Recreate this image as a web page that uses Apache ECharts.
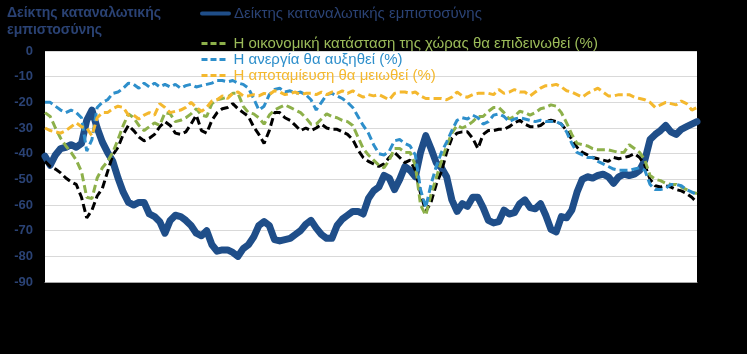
<!DOCTYPE html>
<html>
<head>
<meta charset="utf-8">
<title>Δείκτης καταναλωτικής εμπιστοσύνης</title>
<script src="https://cdn.jsdelivr.net/npm/echarts@6.0.0/dist/echarts.min.js"></script>
<style>
    html, body { margin: 0; padding: 0; background: #000; }
    #chart { width: 747px; height: 354px; }
</style>
</head>
<body>
<div id="chart"></div>
<script>
// series names (legend text)
const cciName = 'Δείκτης καταναλωτικής εμπιστοσύνης';
const blackName = 'Σειρά 5';
const greenName = 'Η οικονομική κατάσταση της χώρας θα επιδεινωθεί (%)';
const blueName = 'Η ανεργία θα αυξηθεί (%)';
const yellowName = 'Η αποταμίευση θα μειωθεί (%)';

// monthly categories, Jan 2009 onwards (labels are hidden in the chart)
const months = [];
for (let y = 2009; months.length < 126; y++) {
    for (let m = 1; m <= 12 && months.length < 126; m++) {
        months.push(y + '-' + (m < 10 ? '0' + m : m));
    }
}

// consumer confidence index
const cci = [-41, -44.5, -40.5, -38, -37.5, -36.5, -37.5, -36, -27, -23,
    -30, -35.5, -39.5, -43, -49.5, -55, -59, -60, -59, -59,
    -63.5, -64.5, -66.5, -71, -66, -64, -64.5, -66, -68, -71,
    -72, -70, -75.5, -78, -77.5, -77.5, -78.5, -80, -77, -75.5,
    -72.5, -68, -66.5, -68, -73.5, -74, -73.5, -73, -71.5, -70,
    -67.5, -66, -69, -71.5, -73, -73, -68, -65.5, -64, -62.5,
    -62.5, -63.5, -57.5, -54.5, -53, -48.5, -49.5, -54, -50, -45,
    -46.5, -49, -39.5, -33, -38, -43.5, -45.5, -49, -58, -62.5,
    -59.5, -60.5, -57, -57, -61, -66, -67, -66.5, -62, -63.5,
    -63, -59.5, -58, -61, -61.5, -59.5, -64, -69.5, -70.5, -64.5,
    -65, -62, -55, -50, -49, -49.5, -48.5, -48, -49, -51.5,
    -49, -48, -48.5, -48, -46.5, -42.5, -34.5, -32.5, -31, -29,
    -31.5, -32.5, -30.5, -29.5, -28.5, -27.5];

// black dashed series (no visible legend text)
const blackVals = [-43, -45, -46, -47.5, -49.5, -51, -52, -57, -65, -62,
    -56.5, -53.5, -47, -40.5, -37.5, -32.5, -29, -31, -33.5, -35,
    -34, -32.5, -29.5, -27.5, -29, -32, -32.5, -31.5, -28.5, -25,
    -31, -32, -27, -24, -22.5, -22, -20.5, -22.5, -24, -25.5,
    -29.5, -32.5, -36, -31, -24, -24, -26, -27, -29, -31,
    -30, -31, -30, -28.5, -30, -30.5, -30.5, -31.5, -32.5, -34.5,
    -38.5, -41.5, -43, -44, -45, -44, -41.5, -39.5, -41.5, -43.5,
    -42.5, -46.5, -55.5, -62.5, -59, -52, -47, -39.5, -34, -32,
    -31.5, -31.5, -34, -38, -32.5, -31, -31, -30.5, -30.5, -29.5,
    -28, -27, -28.5, -29.5, -29.5, -29, -27.5, -27, -27.5, -28.5,
    -31, -34.5, -37.5, -39.5, -40.5, -41.5, -42, -42.5, -43, -41.5,
    -42, -41.5, -41, -40, -41.5, -44.5, -50, -52.5, -53, -52.5,
    -53, -54, -54.5, -55.5, -57, -59];

// country's economic situation will worsen
const greenVals = [-24, -25.5, -30, -34, -37, -39.5, -42.5, -47, -57, -57.5,
    -49.5, -45.5, -43, -39.5, -34.5, -29, -24.5, -26, -29, -31,
    -29.5, -28, -29, -24, -24.5, -27.5, -27, -26, -24.5, -22.5,
    -25, -25.5, -20.5, -19, -18.5, -18, -16.5, -16.5, -21.5, -24,
    -24.5, -26, -28.5, -25, -23, -22, -21, -22, -23, -24,
    -26, -28.5, -28.5, -26.5, -24.5, -25.5, -26, -27, -27.5, -29,
    -33.5, -38, -40.5, -42.5, -44.5, -45.5, -42.5, -38, -38, -39.5,
    -39.5, -44.5, -60, -64, -56, -49.5, -43, -37, -32, -29,
    -30, -29, -27.5, -25.5, -25.5, -23.5, -22, -22, -24, -26.5,
    -25.5, -23.5, -24, -25, -24, -22.5, -22, -21, -21.5, -24,
    -28, -32.5, -36, -36.5, -37, -38, -38.5, -38.5, -38.5, -39,
    -39.5, -39.5, -36.5, -38, -39.5, -42.5, -48.5, -50, -50.5, -51.5,
    -52, -52, -53, -54, -55, -55.5];

// unemployment will rise
const blueVals = [-20, -20, -21.5, -23, -24, -23, -24, -26, -39, -34.5,
    -22, -20, -19, -16.5, -16, -14.5, -12.5, -13, -14.5, -12.5,
    -14, -12.5, -14, -13, -14, -13, -14.5, -13.5, -13, -14,
    -13.5, -13, -12.5, -11.5, -11.5, -12, -11.5, -12.5, -13, -14.5,
    -18.5, -23, -21.5, -17, -15, -14.5, -16, -15.5, -16.5, -16,
    -17, -19, -23, -20, -17, -16.5, -17.5, -18.5, -20, -22,
    -25.5, -29, -32, -36.5, -40, -40.5, -39, -35, -34.5, -36,
    -37, -40.5, -54, -61, -52, -45, -39.5, -35.5, -31, -27,
    -26, -26.5, -25, -26, -28.5, -27.5, -25, -24.5, -25.5, -27.5,
    -26.5, -26, -26.5, -27, -27.5, -27, -27.5, -27.5, -27.5, -28.5,
    -31.5, -36, -39.5, -40.5, -41.5, -41.5, -43, -44, -45, -46,
    -46.5, -46.5, -46.5, -46, -45.5, -46.5, -52, -54, -54, -53.5,
    -52, -52, -52.5, -54, -55, -56];

// savings will decrease
const yellowVals = [-30, -31, -31.5, -32, -31, -29.5, -28, -29.5, -30, -33,
    -26, -24, -24, -22.5, -21.5, -22, -25, -25, -26.5, -25,
    -24, -25, -20.5, -22, -24, -23.5, -23, -22, -20, -22,
    -23.5, -22, -19.5, -19, -17.5, -18.5, -16.5, -16, -17.5, -17.5,
    -17, -17.5, -16.5, -17, -15.5, -16, -17, -16.5, -16, -17,
    -16.5, -16.5, -17, -16, -17, -16, -16.5, -15.5, -16.5, -15.5,
    -17, -18, -17, -17.5, -17, -18, -19, -16.5, -16, -16,
    -16.5, -16, -17.5, -18.5, -18.5, -18.5, -18.5, -19, -18, -16,
    -17.5, -18, -17, -16.5, -16.5, -16.5, -17, -15, -16.5, -16,
    -15, -16, -16, -17.5, -16, -14.5, -13.5, -13.5, -13, -14,
    -15.5, -16, -17, -18, -16.5, -15.5, -14.5, -16, -17.5, -17.5,
    -17, -17, -17, -18, -18.5, -19, -20, -22, -21, -20,
    -20.5, -21, -19.5, -20.5, -23, -22];

const yTicks = [0, -10, -20, -30, -40, -50, -60, -70, -80, -90];

// colours
const navy = '#2a4274';
const cciColor = '#1f4e89';
const greenColor = '#8db04a';
const blueColor = '#2e8fcb';
const yellowColor = '#f4b82e';

const font = 'Arial, "Liberation Sans", sans-serif';

function dashed(name, data, color) {
    return {
        name: name,
        type: 'line',
        data: data,
        symbol: 'none',
        lineStyle: { color: color, width: 3, type: [8, 4] },
        itemStyle: { color: color }
    };
}

// legend entry for a dashed series: no marker, shorter dashes
function dashedEntry(name, textColor) {
    return {
        name: name,
        textStyle: { color: textColor },
        itemStyle: { opacity: 0 },
        lineStyle: { width: 3, type: [6, 3] }
    };
}

const chart = echarts.init(document.getElementById('chart'));

const option = {
    backgroundColor: '#000',
    animation: false,
    textStyle: { fontFamily: font },
    grid: {
        left: 45,
        right: 50,
        top: 51,
        bottom: 72,
        show: true,
        backgroundColor: '#fff',
        borderWidth: 0
    },
    legend: [{
        left: 200,
        top: 6,
        padding: 0,
        orient: 'vertical',
        selectedMode: false,
        itemWidth: 27,
        itemHeight: 14,
        textStyle: { fontSize: 15, lineHeight: 15, fontFamily: font },
        data: [{
            name: cciName,
            textStyle: { color: navy },
            itemStyle: { opacity: 0 },
            lineStyle: { width: 4 }
        }]
    }, {
        left: 200,
        top: 36,
        padding: 0,
        orient: 'vertical',
        selectedMode: false,
        itemWidth: 27,
        itemHeight: 14,
        itemGap: 1,
        textStyle: { fontSize: 15, lineHeight: 14, fontFamily: font },
        data: [
            dashedEntry(greenName, '#9bbb59'),
            dashedEntry(blueName, blueColor),
            dashedEntry(yellowName, yellowColor)
        ]
    }],
    graphic: [{
        type: 'text',
        left: 7,
        top: 5,
        style: {
            text: 'Δείκτης καταναλωτικής\nεμπιστοσύνης',
            fill: navy,
            font: 'bold 14px ' + font,
            lineHeight: 17
        }
    }],
    xAxis: {
        type: 'category',
        data: months,
        boundaryGap: false,
        axisLine: { onZero: false, lineStyle: { color: '#a6a6a6' } },
        axisTick: { show: false },
        axisLabel: { show: false },
        splitLine: { show: false }
    },
    yAxis: {
        type: 'value',
        min: yTicks[yTicks.length - 1],
        max: yTicks[0],
        interval: 10,
        axisLine: { show: false },
        axisTick: { show: false },
        axisLabel: { color: navy, fontWeight: 'bold', fontSize: 13, margin: 12, fontFamily: font },
        splitLine: { lineStyle: { color: '#d9d9d9' } }
    },
    series: [{
        name: cciName,
        type: 'line',
        data: cci,
        symbol: 'none',
        lineStyle: { color: cciColor, width: 7, cap: 'round', join: 'round' },
        itemStyle: { color: cciColor }
    },
    dashed(blackName, blackVals, '#000'),
    dashed(greenName, greenVals, greenColor),
    dashed(blueName, blueVals, blueColor),
    dashed(yellowName, yellowVals, yellowColor)
    ]
};

chart.setOption(option);
</script>
</body>
</html>
